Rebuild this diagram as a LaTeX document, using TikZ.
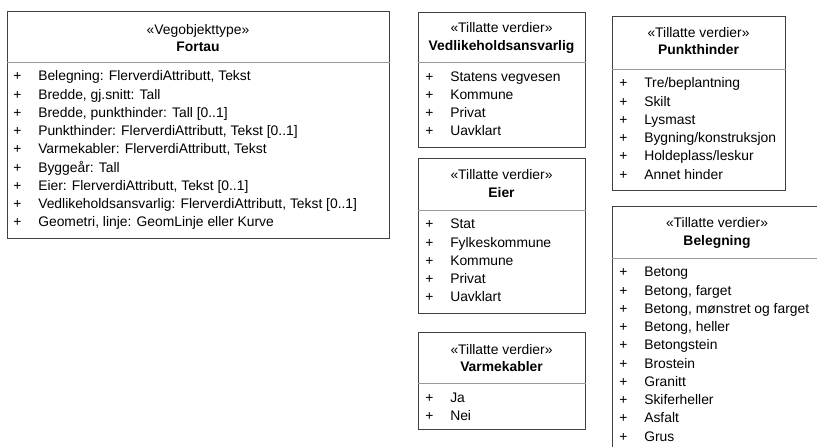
\documentclass[tikz,border=0pt]{standalone}
\usepackage{fontspec}
\setmainfont{Liberation Sans}
\usetikzlibrary{fit}

\begin{document}
\begin{tikzpicture}[x=0.75pt,y=-0.75pt,
    boks/.style={draw=black!75,line width=0.75pt,inner sep=0pt},
    skille/.style={draw=black!40,line width=0.75pt},
    tekst/.style={inner sep=0pt,font=\fontsize{10.4}{12}\selectfont},
    navn/.style={tekst,font=\fontsize{10.4}{12}\selectfont\bfseries},
    post/.style={tekst,anchor=base west}]
    \useasboundingbox (0,0) rectangle (817,446);
    \clip (0,0) rectangle (817,446);

    % Fortau
    \node[boks,fit={(7,11) (389,238)}] (fortau) {};
    \draw[skille] (fortau.west |- 0,62) -- (fortau.east |- 0,62);
    \node[tekst,anchor=base] (fortau-st) at (fortau.north |- 0,34) {«Vegobjekttype»};
    \node[navn,anchor=base] (fortau-navn) at (fortau.north |- 0,51.5) {Fortau};
    \foreach \p [count=\i] in {{Belegning: FlerverdiAttributt, Tekst},{Bredde, gj.snitt: Tall},
        {Bredde, punkthinder: Tall [0..1]},{Punkthinder: FlerverdiAttributt, Tekst [0..1]},
        {Varmekabler: FlerverdiAttributt, Tekst},{Byggeår: Tall},{Eier: FlerverdiAttributt, Tekst [0..1]},
        {Vedlikeholdsansvarlig: FlerverdiAttributt, Tekst [0..1]},{Geometri, linje: GeomLinje eller Kurve}}
        \node[post] (fortau-\i) at (13,62+0.5+18.25*\i) {\makebox[18.75pt][l]{+}\p};

    % Vedlikeholdsansvarlig
    \node[boks,fit={(418,12) (585,147)}] (vedlikehold) {};
    \draw[skille] (vedlikehold.west |- 0,62) -- (vedlikehold.east |- 0,62);
    \node[tekst,anchor=base] (vedlikehold-st) at (vedlikehold.north |- 0,32) {«Tillatte verdier»};
    \node[navn,anchor=base] (vedlikehold-navn) at (vedlikehold.north |- 0,50) {Vedlikeholdsansvarlig};
    \foreach \p [count=\i] in {Statens vegvesen,Kommune,Privat,Uavklart}
        \node[post] (vedlikehold-\i) at (425,62+0.75+18.25*\i) {\makebox[18.75pt][l]{+}\p};

    % Eier
    \node[boks,fit={(418,158) (585,313)}] (eier) {};
    \draw[skille] (eier.west |- 0,210) -- (eier.east |- 0,210);
    \node[tekst,anchor=base] (eier-st) at (eier.north |- 0,179.5) {«Tillatte verdier»};
    \node[navn,anchor=base] (eier-navn) at (eier.north |- 0,197) {Eier};
    \foreach \p [count=\i] in {Stat,Fylkeskommune,Kommune,Privat,Uavklart}
        \node[post] (eier-\i) at (425,210+0.5+18.25*\i) {\makebox[18.75pt][l]{+}\p};

    % Varmekabler
    \node[boks,fit={(418,332) (585,429)}] (varmekabler) {};
    \draw[skille] (varmekabler.west |- 0,383) -- (varmekabler.east |- 0,383);
    \node[tekst,anchor=base] (varmekabler-st) at (varmekabler.north |- 0,354) {«Tillatte verdier»};
    \node[navn,anchor=base] (varmekabler-navn) at (varmekabler.north |- 0,371.5) {Varmekabler};
    \foreach \p [count=\i] in {Ja,Nei}
        \node[post] (varmekabler-\i) at (425,383+0.75+18.25*\i) {\makebox[18.75pt][l]{+}\p};

    % Punkthinder
    \node[boks,fit={(612,16) (785,190)}] (punkthinder) {};
    \draw[skille] (punkthinder.west |- 0,69) -- (punkthinder.east |- 0,69);
    \node[tekst,anchor=base] (punkthinder-st) at (punkthinder.north |- 0,37.5) {«Tillatte verdier»};
    \node[navn,anchor=base] (punkthinder-navn) at (punkthinder.north |- 0,54.5) {Punkthinder};
    \foreach \p [count=\i] in {Tre/beplantning,Skilt,Lysmast,Bygning/konstruksjon,Holdeplass/leskur,Annet hinder}
        \node[post] (punkthinder-\i) at (619,69+0.5+18.25*\i) {\makebox[18.75pt][l]{+}\p};

    % Belegning
    \node[boks,fit={(612,206) (822,460)}] (belegning) {};
    \draw[skille] (belegning.west |- 0,258) -- (belegning.east |- 0,258);
    \node[tekst,anchor=base] (belegning-st) at (717,227) {«Tillatte verdier»};
    \node[navn,anchor=base] (belegning-navn) at (717,245) {Belegning};
    \foreach \p [count=\i] in {Betong,{Betong, farget},{Betong, mønstret og farget},{Betong, heller},Betongstein,
        Brostein,Granitt,Skiferheller,Asfalt,Grus}
        \node[post] (belegning-\i) at (619,258+0.5+18.25*\i) {\makebox[18.75pt][l]{+}\p};
\end{tikzpicture}
\end{document}
